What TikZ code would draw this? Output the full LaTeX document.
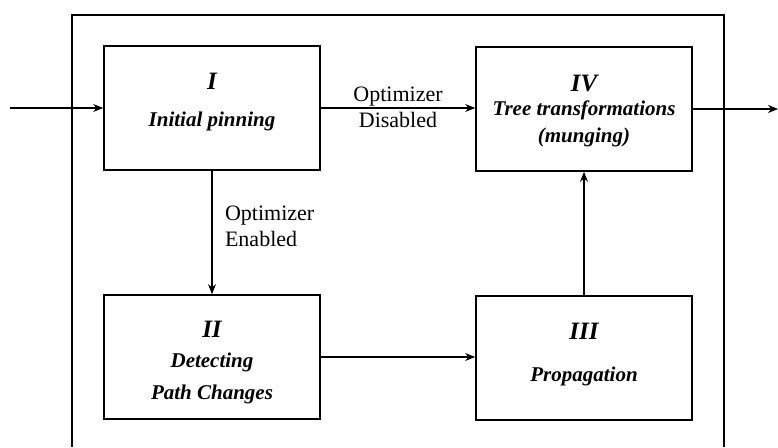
\documentclass[tikz,border=0pt]{standalone}
\usepackage{fontspec}
\setmainfont{Liberation Serif}
\usetikzlibrary{arrows.meta}
\tikzset{
  stage/.style={draw, line width=0.6mm, minimum width=216, minimum height=124, inner sep=0pt,
    align=center, font=\fontsize{21}{24}\selectfont\bfseries\itshape},
  flow/.style={line width=0.5mm, -{Stealth[length=10pt,width=8pt]}},
  cond/.style={font=\fontsize{22}{26}\selectfont},
}
\newcommand{\stagenum}[1]{{\fontsize{25}{28}\selectfont #1}}

\begin{document}
\begin{tikzpicture}[x=1pt, y=-1pt]
			%%%%% START %%%%%
			\useasboundingbox (0, 0) rectangle (778, 447);

			% open frame
			\draw[line width=0.6mm] (72, 447) -- (72, 15) -- (724, 15) -- (724, 447);

			\node[stage] (pin) at (212, 108) {\stagenum{I}\\[13pt] Initial pinning\rule[-16.5pt]{0pt}{0pt}};
			\node[stage] (munge) at (584, 109) {\rule{0pt}{20pt}\stagenum{IV}\\ Tree transformations\\[3pt] (munging)};
			\node[stage] (detect) at (212, 357) {\rule{0pt}{27pt}\stagenum{II}\\[6pt] Detecting\\[8pt] Path Changes};
			\node[stage] (prop) at (584, 358) {\stagenum{III}\\[18pt] Propagation\rule[-10.5pt]{0pt}{0pt}};

			\coordinate (in) at (10, 108);
			\coordinate (out) at (778, 109);

			\draw[flow] (in) -- (pin.west);
			\draw[flow] (pin.east) -- node[above=-2pt, cond] {Optimizer} node[below=0pt, cond] {Disabled} (pin.east -| munge.west);
			\draw[flow] (pin.south) -- node[right, cond, align=left, xshift=9pt, pos=0.45] {Optimizer\\Enabled} (pin.south |- detect.north);
			\draw[flow] (detect.east) -- (detect.east -| prop.west);
			\draw[flow] (prop.north) -- (prop.north |- munge.south);
			\draw[flow] (munge.east) -- (out);

			%%%%% END %%%%%
\end{tikzpicture}
\end{document}
